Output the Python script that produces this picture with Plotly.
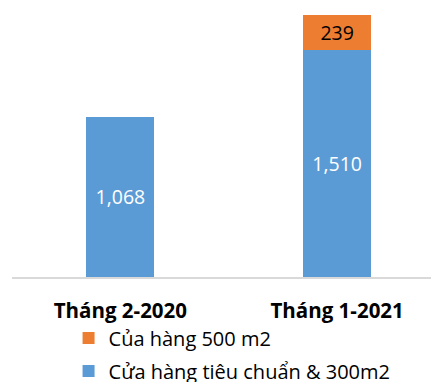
import plotly.graph_objects as go

categories = ["Tháng 2-2020", "Tháng 1-2021"]
standard_stores = [1068, 1510]
large_stores = [None, 239]
standard_name = "Cửa hàng tiêu chuẩn & 300m2"
large_name = "Của hàng 500 m2"

BLUE = "#5b9bd5"
ORANGE = "#ed7d31"
FONT = "Open Sans"

fig = go.Figure()
fig.add_trace(go.Bar(
    x=categories, y=standard_stores, name=standard_name,
    legendgroup="std", legendrank=2,
    marker=dict(color=BLUE, line=dict(width=0)),
    text=[f"{v:,}" for v in standard_stores], textposition="inside",
    insidetextanchor="middle", textangle=0,
    textfont=dict(color="white", size=19.5, family=FONT),
    width=0.313, hoverinfo="skip",
))
fig.add_trace(go.Bar(
    x=categories, y=large_stores, name=large_name,
    legendgroup="large", legendrank=1,
    marker=dict(color=ORANGE, line=dict(width=0)),
    text=["" if v is None else f"{v:,}" for v in large_stores], textposition="inside",
    insidetextanchor="middle", textangle=0,
    textfont=dict(color="black", size=19.5, family=FONT),
    width=0.313, hoverinfo="skip",
))

fig.update_layout(
    barmode="stack",
    width=431, height=382,
    margin=dict(l=11.5, r=0, t=0, b=104.5, pad=0, autoexpand=False),
    paper_bgcolor="white", plot_bgcolor="white",
    font=dict(family=FONT, color="black"),
    uniformtext=dict(minsize=8, mode="show"),
    showlegend=True,
    legend=dict(
        orientation="v", traceorder="grouped",
        x=0.135, xanchor="left", y=-0.15, yanchor="top",
        font=dict(size=20, family=FONT, color="black"),
        itemwidth=30, tracegroupgap=4,
        bgcolor="rgba(0,0,0,0)",
    ),
    xaxis=dict(
        range=[-0.5, 1.433], showgrid=False, zeroline=False,
        showline=True, linecolor="#d9d9d9", linewidth=1.5,
        ticks="", tickfont=dict(size=20.5, family=FONT, color="black", weight="bold"),
        ticklabelstandoff=15,
    ),
    yaxis=dict(range=[0, 1846], visible=False, showgrid=False, zeroline=False),
)

fig.write_html("out.html")
